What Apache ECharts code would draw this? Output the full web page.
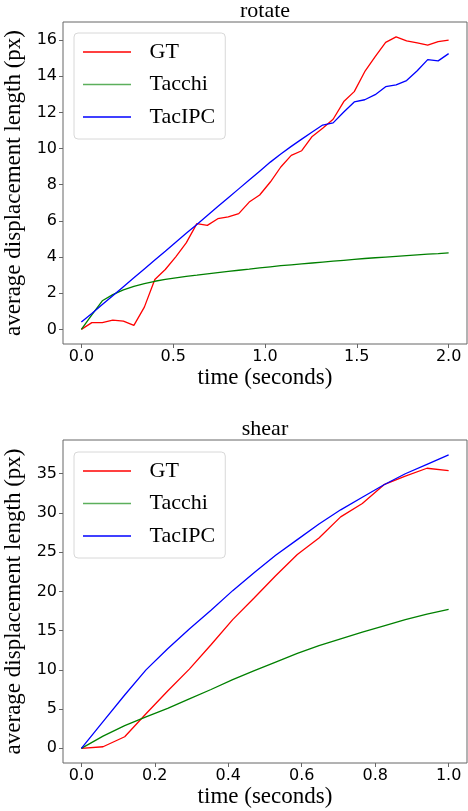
<!DOCTYPE html>
<html>
<head>
<meta charset="utf-8">
<script src="https://cdn.jsdelivr.net/npm/echarts@6/dist/echarts.min.js"></script>
<style>
html,body{margin:0;padding:0;background:#fff;}
#chart{width:468px;height:811px;}
</style>
</head>
<body>
<div id="chart"></div>
<script>
// ---- data: rotate ----
var rotateTime = [0, 0.057, 0.114, 0.171, 0.229, 0.286, 0.343, 0.4, 0.457, 0.514, 0.571, 0.629, 0.686, 0.743, 0.8, 0.857, 0.914, 0.971, 1.029, 1.086, 1.143, 1.2, 1.257, 1.314, 1.371, 1.429, 1.486, 1.543, 1.6, 1.657, 1.714, 1.771, 1.829, 1.886, 1.943, 2.0];
var rotateGT = [0.00, 0.37, 0.37, 0.51, 0.46, 0.22, 1.23, 2.76, 3.31, 4.01, 4.78, 5.85, 5.75, 6.12, 6.22, 6.40, 7.04, 7.43, 8.15, 8.98, 9.62, 9.88, 10.67, 11.12, 11.62, 12.60, 13.15, 14.25, 15.08, 15.87, 16.18, 15.96, 15.85, 15.72, 15.91, 16.00];
var rotateTacchi = [0.00, 0.80, 1.58, 1.92, 2.18, 2.38, 2.53, 2.66, 2.76, 2.85, 2.93, 3.00, 3.07, 3.14, 3.21, 3.27, 3.33, 3.40, 3.46, 3.52, 3.57, 3.62, 3.67, 3.72, 3.77, 3.82, 3.87, 3.92, 3.96, 4.00, 4.04, 4.08, 4.12, 4.16, 4.19, 4.23];
var rotateTacIPC = [0.40, 0.88, 1.37, 1.86, 2.36, 2.85, 3.34, 3.83, 4.32, 4.82, 5.31, 5.80, 6.30, 6.79, 7.28, 7.77, 8.26, 8.75, 9.25, 9.70, 10.12, 10.52, 10.92, 11.30, 11.42, 12.02, 12.58, 12.70, 12.98, 13.42, 13.52, 13.76, 14.30, 14.92, 14.85, 15.25];
var rotateXTicks = [0, 0.5, 1.0, 1.5, 2.0];
var rotateYTicks = [0, 2, 4, 6, 8, 10, 12, 14, 16];

// ---- data: shear ----
var shearTime = [0, 0.059, 0.118, 0.176, 0.235, 0.294, 0.353, 0.412, 0.471, 0.529, 0.588, 0.647, 0.706, 0.765, 0.824, 0.882, 0.941, 1.0];
var shearGT = [0.0, 0.2, 1.48, 4.4, 7.3, 10.1, 13.2, 16.4, 19.2, 22.0, 24.7, 26.8, 29.5, 31.2, 33.6, 34.7, 35.7, 35.4];
var shearTacchi = [0.0, 1.55, 2.9, 4.0, 5.1, 6.3, 7.5, 8.75, 9.9, 11.0, 12.1, 13.1, 13.95, 14.8, 15.6, 16.4, 17.1, 17.7];
var shearTacIPC = [0.0, 3.4, 6.8, 10.0, 12.7, 15.2, 17.6, 20.1, 22.4, 24.6, 26.6, 28.6, 30.4, 32.0, 33.6, 35.0, 36.2, 37.4];
var shearXTicks = [0, 0.2, 0.4, 0.6, 0.8, 1.0];
var shearYTicks = [0, 5, 10, 15, 20, 25, 30, 35];

var seriesNames = ['GT', 'Tacchi', 'TacIPC'];
var seriesColors = ['#ff0000', '#008000', '#0000ff'];

function pairs(xs, ys) { return xs.map(function (x, i) { return [x, ys[i]]; }); }

var serif = '"Liberation Serif", "DejaVu Serif", serif';
var sans = '"DejaVu Sans", sans-serif';
var spine = '#666';

function xAxis(gridIndex, min, max, ticks) {
  return {
    type: 'value', gridIndex: gridIndex, min: min, max: max, position: 'bottom',
    name: 'time (seconds)', nameLocation: 'middle', nameGap: 22,
    nameTextStyle: { fontFamily: serif, fontSize: 23, color: '#000' },
    axisLine: { show: false, onZero: false },
    axisTick: { show: true, inside: false, length: 4, lineStyle: { color: spine }, customValues: ticks },
    axisLabel: { customValues: ticks, margin: 5, fontFamily: sans, fontSize: 16, color: '#000',
      formatter: function (v) { return v.toFixed(1); } },
    splitLine: { show: false }
  };
}
function yAxis(gridIndex, min, max, ticks) {
  return {
    type: 'value', gridIndex: gridIndex, min: min, max: max, position: 'left',
    name: 'average displacement length (px)', nameLocation: 'middle', nameGap: 22,
    nameTextStyle: { fontFamily: serif, fontSize: 23, color: '#000' },
    axisLine: { show: false, onZero: false },
    axisTick: { show: true, inside: false, length: 4, lineStyle: { color: spine }, customValues: ticks },
    axisLabel: { customValues: ticks, margin: 6, fontFamily: sans, fontSize: 16, color: '#000',
      formatter: function (v) { return String(v); } },
    splitLine: { show: false }
  };
}
function legend(top) {
  return {
    orient: 'vertical', left: 74, top: top,
    padding: [8, 10, 11, 9],
    borderColor: '#d8d8d8', borderWidth: 1, borderRadius: 4,
    backgroundColor: 'rgba(255,255,255,0.8)',
    icon: 'rect', itemWidth: 48, itemHeight: 1.5, itemGap: 10.5,
    textStyle: { fontFamily: serif, fontSize: 22, color: '#000', lineHeight: 22, padding: [0, 0, 0, 13.6] },
    selectedMode: false,
    data: [
      { name: 'GT' },
      { name: 'Tacchi', itemStyle: { color: '#5caf5c' } },
      { name: 'TacIPC' }
    ]
  };
}
function lineSeries(name, color, xi, xs, ys) {
  return {
    type: 'line', name: name, xAxisIndex: xi, yAxisIndex: xi,
    data: pairs(xs, ys), symbol: 'none', showSymbol: false,
    lineStyle: { color: color, width: 1.3 }, itemStyle: { color: color },
    animation: false, silent: true
  };
}

var chart = echarts.init(document.getElementById('chart'), null, { renderer: 'canvas' });
chart.setOption({
  backgroundColor: '#fff',
  animation: false,
  title: [
    { text: 'rotate', left: 265, textAlign: 'center', top: 0, padding: 0,
      textStyle: { fontFamily: serif, fontSize: 22, fontWeight: 'normal', color: '#000' } },
    { text: 'shear', left: 265, textAlign: 'center', top: 418, padding: 0,
      textStyle: { fontFamily: serif, fontSize: 22, fontWeight: 'normal', color: '#000' } }
  ],
  grid: [
    { left: 63, right: 1, top: 22, height: 322, show: true, borderColor: spine, borderWidth: 1, backgroundColor: 'transparent', containLabel: false, outerBoundsMode: 'none' },
    { left: 63, right: 1, top: 440, height: 323, show: true, borderColor: spine, borderWidth: 1, backgroundColor: 'transparent', containLabel: false, outerBoundsMode: 'none' }
  ],
  xAxis: [ xAxis(0, -0.1, 2.1, rotateXTicks), xAxis(1, -0.05, 1.05, shearXTicks) ],
  yAxis: [ yAxis(0, -0.81, 17.0, rotateYTicks), yAxis(1, -1.87, 39.3, shearYTicks) ],
  legend: [ legend(33), legend(452) ],
  series: [
    lineSeries(seriesNames[0], seriesColors[0], 0, rotateTime, rotateGT),
    lineSeries(seriesNames[1], seriesColors[1], 0, rotateTime, rotateTacchi),
    lineSeries(seriesNames[2], seriesColors[2], 0, rotateTime, rotateTacIPC),
    lineSeries(seriesNames[0], seriesColors[0], 1, shearTime, shearGT),
    lineSeries(seriesNames[1], seriesColors[1], 1, shearTime, shearTacchi),
    lineSeries(seriesNames[2], seriesColors[2], 1, shearTime, shearTacIPC)
  ]
});
</script>
</body>
</html>
